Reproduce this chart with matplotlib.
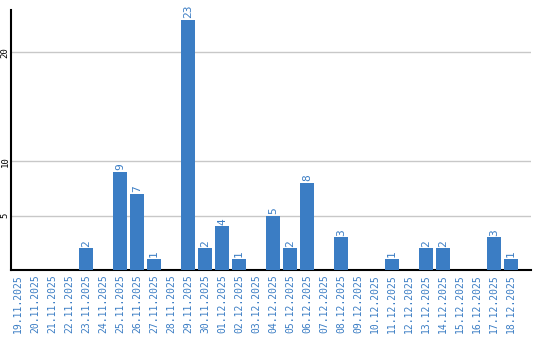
import matplotlib
matplotlib.use("Agg")
import matplotlib.pyplot as plt

dates = ["19.11.2025", "20.11.2025", "21.11.2025", "22.11.2025", "23.11.2025",
         "24.11.2025", "25.11.2025", "26.11.2025", "27.11.2025", "28.11.2025",
         "29.11.2025", "30.11.2025", "01.12.2025", "02.12.2025", "03.12.2025",
         "04.12.2025", "05.12.2025", "06.12.2025", "07.12.2025", "08.12.2025",
         "09.12.2025", "10.12.2025", "11.12.2025", "12.12.2025", "13.12.2025",
         "14.12.2025", "15.12.2025", "16.12.2025", "17.12.2025", "18.12.2025"]
counts = [0, 0, 0, 0, 2, 0, 9, 7, 1, 0, 23, 2, 4, 1, 0,
          5, 2, 8, 0, 3, 0, 0, 1, 0, 2, 2, 0, 0, 3, 1]
yticks = [5, 10, 20]

blue = "#3b7dc4"

fig = plt.figure(figsize=(5.4, 3.4), dpi=100)
ax = fig.add_axes([11 / 540, 70 / 340, 520 / 540, 260 / 340])

x = list(range(len(dates)))
ax.bar(x, counts, width=0.82, color=blue, zorder=3)
for i, v in zip(x, counts):
    if v > 0:
        ax.text(i, v + 0.15, str(v), rotation=90, ha="center", va="bottom",
                color=blue, fontsize=8, family="DejaVu Sans Mono")

ax.set_xlim(-0.41, 30.18)
ax.set_ylim(0, 23.9)
ax.set_yticks(yticks)
ax.set_yticklabels([str(t) for t in yticks], rotation=90, va="center",
                   fontsize=6.5, family="DejaVu Sans Mono")
ax.set_xticks(x)
ax.set_xticklabels(dates, rotation=90, fontsize=7, color=blue,
                   family="DejaVu Sans Mono")
ax.tick_params(axis="x", length=0, pad=3)
ax.tick_params(axis="y", length=0, pad=1)
ax.grid(axis="y", color="#c8c8c8", linewidth=1, zorder=0)
for s in ["top", "right"]:
    ax.spines[s].set_visible(False)
ax.spines["left"].set_linewidth(1.5)
ax.spines["bottom"].set_linewidth(1.5)

fig.savefig("out.png", dpi=100)
